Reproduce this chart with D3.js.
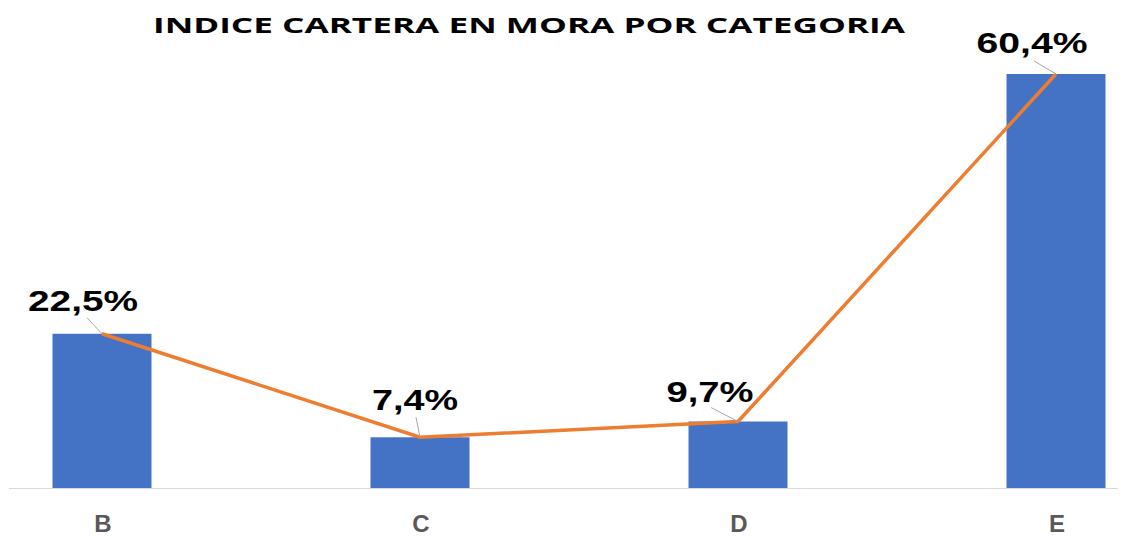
<!DOCTYPE html>
<html><head><meta charset="utf-8">
<script src="https://cdn.jsdelivr.net/npm/d3@7"></script>
<style>html,body{margin:0;padding:0;background:#fff;}svg{display:block;}</style>
</head><body>
<svg id="chart" width="1125" height="536"></svg>
<script>
const title = "INDICE CARTERA EN MORA POR CATEGORIA";
const categories = ["B", "C", "D", "E"];
const values = [22.5, 7.4, 9.7, 60.4];
const valueLabels = ["22,5%", "7,4%", "9,7%", "60,4%"];

// layout constants (label placement relative to each point)
const labelOffsets = [[-19, -23], [-5, -27], [-28, -20], [-24, -21]];
const leaderStarts = [[-15, -16], [-4, -20], [-27, -14], [-22, -13]];
const labelWidths = [110, 86, 87, 111];

const svg = d3.select("#chart");
const x = d3.scalePoint().domain(categories).range([102, 1056]);
const y = d3.scaleLinear().domain([0, 60.4]).range([488, 74]);
const barW = 99;

svg.append("text").attr("x", 153).attr("y", 33)
  .attr("textLength", 752).attr("lengthAdjust", "spacingAndGlyphs")
  .style("font-family", "'Open Sans', sans-serif").style("font-weight", "bold")
  .style("font-size", "22px").attr("fill", "#000").text(title);

svg.append("line").attr("x1", 9).attr("x2", 1118).attr("y1", 488.5).attr("y2", 488.5)
  .attr("stroke", "#d9d9d9").attr("stroke-width", 1);

svg.selectAll("rect.bar").data(values).join("rect").attr("class", "bar")
  .attr("x", (d, i) => x(categories[i]) - barW / 2)
  .attr("width", barW)
  .attr("y", d => y(d))
  .attr("height", d => y(0) - y(d))
  .attr("fill", "#4472C4");

const line = d3.line().x((d, i) => x(categories[i])).y(d => y(d));
svg.append("path").datum(values).attr("d", line)
  .attr("fill", "none").attr("stroke", "#ED7D31").attr("stroke-width", 3.5)
  .attr("stroke-linejoin", "round");

svg.selectAll("line.leader").data(values).join("line").attr("class", "leader")
  .attr("x1", (d, i) => x(categories[i]) + leaderStarts[i][0])
  .attr("y1", (d, i) => y(d) + leaderStarts[i][1])
  .attr("x2", (d, i) => x(categories[i]))
  .attr("y2", d => y(d))
  .attr("stroke", "#a6a6a6").attr("stroke-width", 1);

svg.selectAll("text.vlab").data(values).join("text").attr("class", "vlab")
  .attr("x", (d, i) => x(categories[i]) + labelOffsets[i][0])
  .attr("y", (d, i) => y(d) + labelOffsets[i][1])
  .attr("text-anchor", "middle")
  .attr("textLength", (d, i) => labelWidths[i]).attr("lengthAdjust", "spacingAndGlyphs")
  .style("font-family", "'Liberation Sans', Arial, sans-serif").style("font-weight", "bold")
  .style("font-size", "30px").attr("fill", "#000")
  .text((d, i) => valueLabels[i]);

svg.selectAll("text.cat").data(categories).join("text").attr("class", "cat")
  .attr("x", d => x(d) + 1).attr("y", 532)
  .attr("text-anchor", "middle")
  .style("font-family", "'Liberation Sans', Arial, sans-serif").style("font-weight", "bold")
  .style("font-size", "24px").attr("fill", "#595959")
  .text(d => d);
</script>
</body></html>
